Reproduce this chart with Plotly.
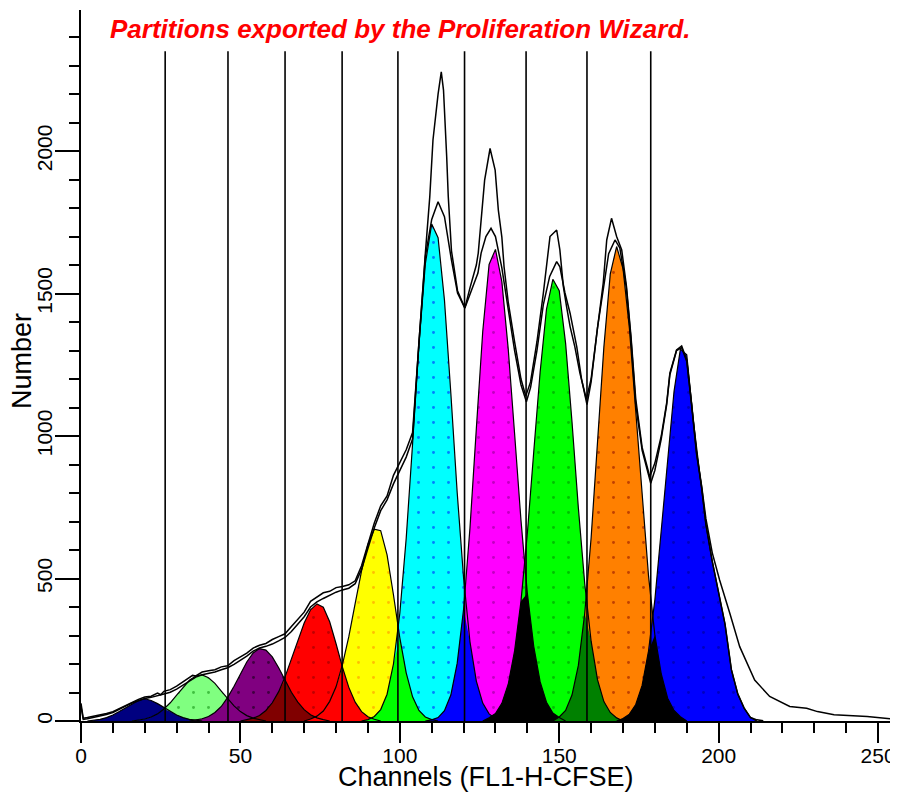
import plotly.graph_objects as go

# ---------------- data ----------------
GRID_STEP = 2  # channel spacing of the generation (model) curves

gen_names = ["Gen 1", "Gen 2", "Gen 3", "Gen 4", "Gen 5",
             "Gen 6", "Gen 7", "Gen 8", "Gen 9", "Gen 10"]
gen_colors = ["#000080", "#80FF80", "#800080", "#FF0000", "#FFFF00",
              "#00FFFF", "#FF00FF", "#00FF00", "#FF8000", "#0000FF"]
gen_dot_colors = ["#000080", "#008000", "#000000", "#800000", "#FF8000",
                  "#0000FF", "#800080", "#008000", "#800000", "#000080"]
gen_start = [2, 16, 34, 50, 70, 88, 108, 126, 148, 168]

gen1 = [0, 3, 6, 12, 21, 33, 47, 61, 72, 78, 72, 61, 47, 33, 21, 12, 6, 3, 0]
gen2 = [0, 3, 7, 14, 25, 42, 64, 91, 119, 143, 158, 162, 152, 132, 105, 78, 53, 33, 19, 10, 5, 0]
gen3 = [0, 4, 8, 16, 30, 51, 83, 122, 166, 207, 239, 254, 249, 225, 187, 144, 101, 66, 40, 22, 11, 5, 0]
gen4 = [0, 5, 10, 19, 37, 64, 103, 155, 217, 283, 344, 390, 411, 399, 348, 271, 189, 118, 66, 33, 15, 6, 0]
gen5 = [0, 7, 17, 35, 69, 120, 198, 296, 413, 527, 620, 673, 668, 583, 443, 292, 169, 85, 37, 14, 5, 0]
gen6 = [0, 5, 16, 40, 94, 200, 378, 641, 973, 1321, 1604, 1744, 1696, 1477, 1150, 801, 502, 278, 140, 63, 25, 9, 0]
gen7 = [0, 4, 12, 36, 91, 203, 392, 677, 1026, 1366, 1602, 1655, 1542, 1306, 1008, 704, 448, 262, 138, 66, 28, 12, 0]
gen8 = [0, 11, 26, 62, 129, 246, 420, 659, 944, 1224, 1445, 1550, 1510, 1325, 1050, 748, 482, 280, 145, 68, 30, 11, 0]
gen9 = [0, 14, 37, 91, 195, 378, 643, 977, 1312, 1568, 1665, 1588, 1378, 1087, 781, 510, 301, 165, 80, 37, 15, 0]
gen10 = [0, 9, 24, 58, 125, 245, 426, 663, 926, 1156, 1305, 1285, 1060, 880, 690, 560, 450, 340, 180, 95, 45, 12, 0]
gen_values = [gen1, gen2, gen3, gen4, gen5, gen6, gen7, gen8, gen9, gen10]

# raw histograms (two overlaid samples)
upper_ch = [0, 0.7, 2, 4, 6, 8, 10, 12, 14, 16, 18, 20, 22, 24, 25, 26, 28, 30, 32, 34, 35, 36, 38, 40,
            42, 44, 46, 48, 50, 52, 54, 56, 58, 60, 62, 64, 66, 68, 70, 72, 74, 76, 78, 80, 82, 84,
            86, 88, 90, 92, 94, 96, 98, 100, 102, 104, 106, 108, 109.4, 110.4, 112, 113, 113.7,
            114.2, 114.7, 115.2, 116.2, 118.1, 120.4, 122, 124, 124.6, 125.6, 126.6, 128.3, 129.9,
            130.9, 132, 132.7, 134, 136, 138, 139.5, 141, 143, 145, 147.1, 149.2, 150.2, 151.3,
            152.3, 153.4, 154.9, 156.5, 158.5, 160, 161.8, 162.8, 163.8, 164.9, 166.4, 168, 169.6,
            171.1, 172.5, 174, 176, 178.4, 180, 182, 183.7, 184.7, 186.8, 188.4, 190, 191.5, 193.1,
            194.7, 196, 198, 200.3, 203.5, 206.6, 211.3, 216, 222.3, 227.6, 231, 236.2, 246.6, 254, 255]
upper_val = [62, 10, 12, 17, 20, 26, 33, 44, 55, 66, 76, 84, 87, 98, 92, 104, 110, 122, 138, 152, 160, 158, 172, 176,
             180, 190, 194, 212, 226, 238, 256, 266, 272, 286, 296, 306, 332, 356, 382, 420, 436, 450, 455, 468, 472, 478,
             492, 545, 620, 695, 755, 790, 862, 905, 952, 1012, 1340, 1640, 1840, 2039, 2200, 2278, 2214,
             2109, 1980, 1840, 1650, 1510, 1449, 1520, 1600, 1642, 1782, 1898, 2009, 1933,
             1793, 1698, 1593, 1470, 1330, 1200, 1140, 1190, 1330, 1500, 1700, 1723, 1653, 1524,
             1454, 1384, 1313, 1220, 1130, 1200, 1361, 1442, 1537, 1688, 1764, 1700, 1653,
             1524, 1350, 1130, 960, 857, 905, 1000, 1116, 1221, 1302, 1316, 1267, 1116, 940,
             822, 710, 590, 495, 378, 261, 144, 86, 51, 45, 33, 22, 16, 8, 3]

middle_ch = [0, 0.7, 2, 4, 6, 8, 10, 12, 14, 16, 18, 20, 22, 24, 26, 28, 30, 32, 34, 36, 38, 40, 42, 44,
             46, 48, 50, 52, 54, 56, 58, 60, 62, 64, 66, 68, 70, 72, 74, 76, 78, 80, 82, 84, 86, 88,
             90, 92, 94, 96, 98, 100, 102, 104, 106, 108, 110, 112, 114, 116.2, 118.1, 120.4, 122,
             124.5, 125.5, 127, 128.6, 130, 132, 134, 136, 138, 139.7, 141, 143, 145, 147, 149.2,
             150.2, 151.8, 153.4, 155.5, 157, 158.7, 160, 162, 164, 165.5, 167.5, 169, 171, 172.5,
             174, 176, 178.7, 180, 182, 183.7, 184.7, 186.8, 188.4, 190, 191.5, 193.1, 194.7, 196,
             198, 200, 202, 204, 206, 208, 210, 212, 214]
middle_val = [50, 6, 8, 13, 17, 23, 30, 40, 52, 63, 72, 79, 83, 88, 95, 101, 112, 126, 141, 154, 162, 166, 172, 180,
              187, 199, 212, 228, 245, 256, 262, 270, 281, 293, 314, 340, 366, 400, 418, 430, 441, 452, 460, 466, 482, 532,
              606, 678, 738, 776, 832, 880, 926, 990, 1330, 1630, 1760, 1822, 1770, 1617, 1502, 1449, 1500,
              1572, 1642, 1700, 1729, 1700, 1590, 1440, 1300, 1180, 1120, 1170, 1300, 1460, 1560, 1612,
              1594, 1502, 1431, 1313, 1200, 1110, 1190, 1380, 1530, 1640, 1688, 1660, 1524, 1340,
              1110, 950, 834, 880, 990, 1110, 1215, 1300, 1310, 1262, 1110, 935, 818, 690,
              560, 450, 340, 180, 95, 45, 12, 4, 1]

partition_ch = [26.4, 46.1, 64.0, 81.9, 99.4, 120.3, 139.6, 158.7, 178.7]
partition_top = 2350

x_ticks = [0, 50, 100, 150, 200, 250]
y_ticks = [0, 500, 1000, 1500, 2000]

title_text = "Partitions exported by the Proliferation Wizard."
x_title = "Channels (FL1-H-CFSE)"
y_title = "Number"

# ---------------- helpers ----------------
def gen_xy(start, vals):
    return [start + GRID_STEP * i for i in range(len(vals))], vals


def and_color(c1, c2):
    v = int(c1[1:], 16) & int(c2[1:], 16)
    return "#%06X" % v


FONT = "Liberation Sans, Arial, sans-serif"
fig = go.Figure()

# generation fills
for start, vals, col, dcol in zip(gen_start, gen_values, gen_colors, gen_dot_colors):
    xs, ys = gen_xy(start, vals)
    fig.add_trace(go.Scatter(
        x=xs, y=ys, mode="lines", fill="tozeroy", fillcolor=col,
        fillpattern=dict(shape=".", bgcolor=col, fgcolor=dcol, size=15, solidity=0.03),
        line=dict(width=0, color=col), hoverinfo="skip", showlegend=False))

# overlaps between neighbouring generations (colour = AND of both)
for i in range(len(gen_values) - 1):
    xa, ya = gen_xy(gen_start[i], gen_values[i])
    xb, yb = gen_xy(gen_start[i + 1], gen_values[i + 1])
    da, db = dict(zip(xa, ya)), dict(zip(xb, yb))
    common = sorted(set(da) & set(db))
    ov = [min(da[c], db[c]) for c in common]
    col = and_color(gen_colors[i], gen_colors[i + 1])
    fig.add_trace(go.Scatter(
        x=common, y=ov, mode="lines", fill="tozeroy", fillcolor=col,
        line=dict(width=0, color=col), hoverinfo="skip", showlegend=False))

# outlines of generations
for start, vals in zip(gen_start, gen_values):
    xs, ys = gen_xy(start, vals)
    fig.add_trace(go.Scatter(x=xs, y=ys, mode="lines",
                             line=dict(color="black", width=1.2),
                             hoverinfo="skip", showlegend=False))

# raw histograms
fig.add_trace(go.Scatter(x=middle_ch, y=middle_val, mode="lines",
                         line=dict(color="black", width=1.5), showlegend=False))
fig.add_trace(go.Scatter(x=upper_ch, y=upper_val, mode="lines",
                         line=dict(color="black", width=1.5), showlegend=False))

# partition markers
px, py = [], []
for c in partition_ch:
    px += [c, c, None]
    py += [0, partition_top, None]
fig.add_trace(go.Scatter(x=px, y=py, mode="lines",
                         line=dict(color="black", width=1.6),
                         hoverinfo="skip", showlegend=False))

# ---------------- layout ----------------
# the page body has a default 8px margin, so the figure is laid out 8px smaller
PAGE_OFF = 8
W, H = 898 - PAGE_OFF, 792 - PAGE_OFF
L, R, T, B = 81 - PAGE_OFF, 4, 10 - PAGE_OFF, 71
pw, ph = W - L - R, H - T - B


def paper_x(page_x):
    return (page_x - PAGE_OFF - L) / pw


def paper_y(page_y):
    return (H - B - (page_y - PAGE_OFF)) / ph


fig.update_layout(
    width=W, height=H, autosize=False,
    margin=dict(l=L, r=R, t=T, b=B, pad=0, autoexpand=False),
    paper_bgcolor="white", plot_bgcolor="white",
    showlegend=False,
    font=dict(family=FONT, color="black"),
    xaxis=dict(range=[0, 255], tickvals=x_ticks, ticktext=[str(v) for v in x_ticks],
               automargin=False, ticklabelstandoff=-5, ticklabeloverflow="allow",
               showgrid=False, zeroline=False, showline=True, linecolor="black", linewidth=2,
               ticks="outside", ticklen=20, tickwidth=2, tickcolor="black",
               tickfont=dict(family=FONT, size=21, color="black"),
               minor=dict(tickmode="linear", tick0=0, dtick=10, ticks="outside",
                          ticklen=10, tickwidth=2, tickcolor="black", showgrid=False)),
    yaxis=dict(range=[0, 2495], tickvals=y_ticks, ticktext=[str(v) for v in y_ticks],
               automargin=False, ticklabelstandoff=-5, ticklabeloverflow="allow",
               showgrid=False, zeroline=False, showline=True, linecolor="black", linewidth=2,
               ticks="outside", ticklen=24, tickwidth=2, tickcolor="black", tickangle=-90,
               tickfont=dict(family=FONT, size=21, color="black"),
               minor=dict(tickmode="linear", tick0=0, dtick=100, ticks="outside",
                          ticklen=10, tickwidth=2, tickcolor="black", showgrid=False)),
    annotations=[
        dict(text="<b><i>" + title_text + "</i></b>", xref="paper", yref="paper",
             x=paper_x(400), y=paper_y(29), xanchor="center", yanchor="middle",
             showarrow=False, font=dict(family=FONT, size=26, color="#FF0000")),
        dict(text=x_title, xref="paper", yref="paper",
             x=paper_x(486), y=paper_y(777), xanchor="center", yanchor="middle",
             showarrow=False, font=dict(family=FONT, size=27, color="black")),
        dict(text=y_title, xref="paper", yref="paper", textangle=-90,
             x=paper_x(22), y=paper_y(361), xanchor="center", yanchor="middle",
             showarrow=False, font=dict(family=FONT, size=27, color="black")),
    ],
)

fig.write_html("out.html")
